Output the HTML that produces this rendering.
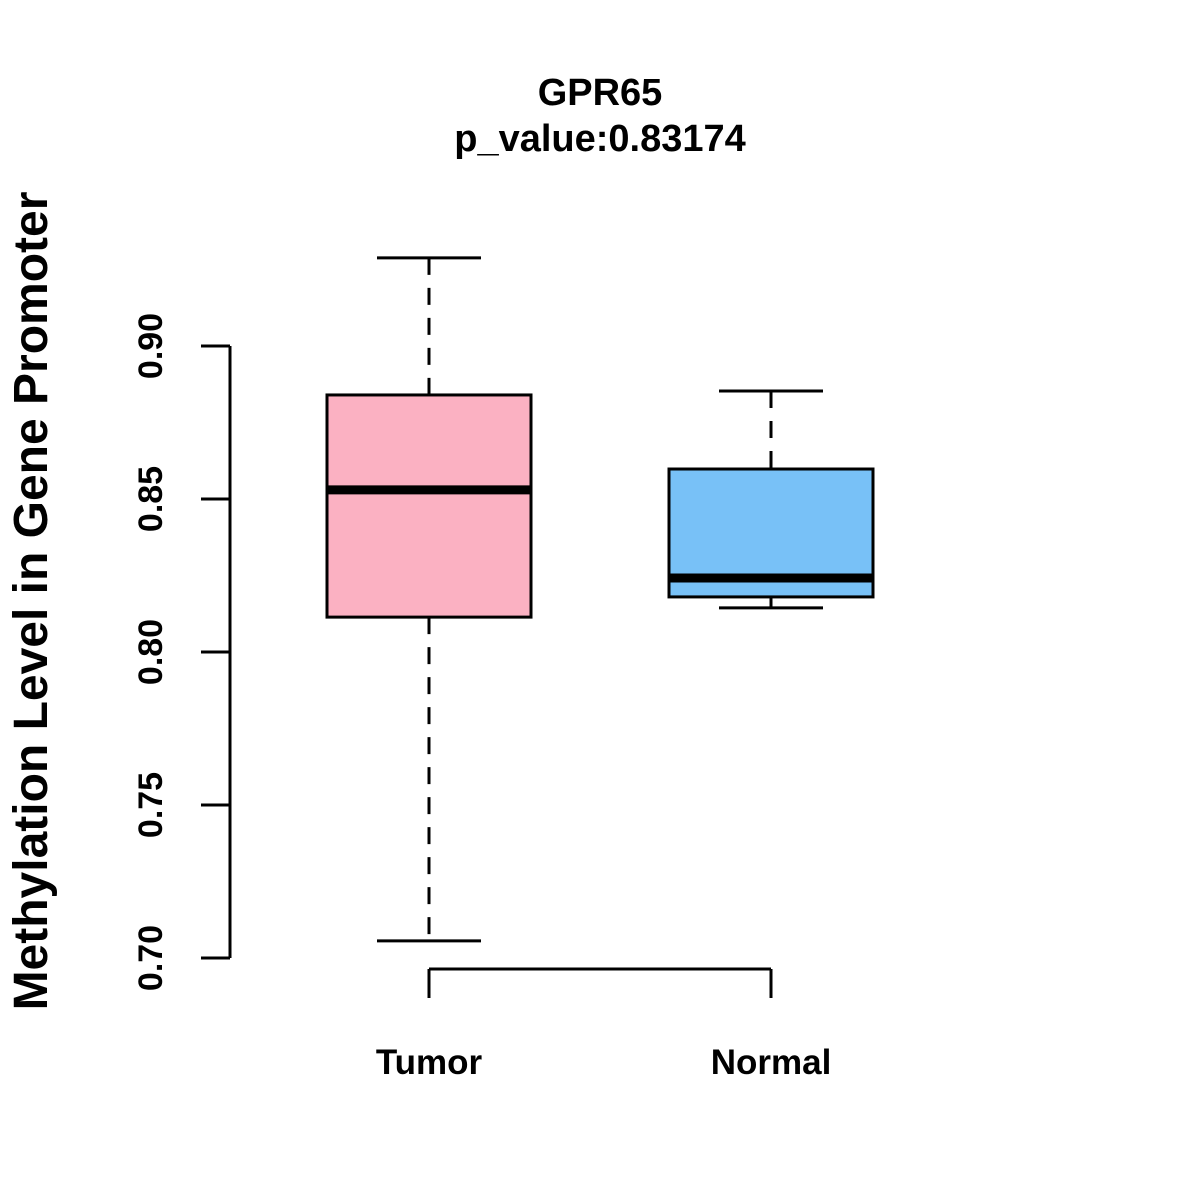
<!DOCTYPE html>
<html><head><meta charset="utf-8"><style>
html,body{margin:0;padding:0;background:#fff;}
svg{display:block;font-family:"Liberation Sans",Arial,sans-serif;}
</style></head><body>
<svg id="chart" width="1200" height="1200" viewBox="0 0 1200 1200">
<rect width="1200" height="1200" fill="#fff"/>
<text x="600" y="105" text-anchor="middle" font-size="38" font-weight="bold">GPR65</text>
<text x="600" y="151" text-anchor="middle" font-size="38" font-weight="bold">p_value:0.83174</text>
<text transform="translate(47,601) rotate(-90)" text-anchor="middle" font-size="48" font-weight="bold">Methylation Level in Gene Promoter</text>
<g id="yaxis"></g>
<g id="xaxis"></g>
<g id="boxes"></g>
</svg>
<script>
const categories = ["Tumor", "Normal"];
const whiskerLow = [0.7056, 0.8144];
const q1 = [0.8114, 0.8180];
const median = [0.8530, 0.8242];
const q3 = [0.8840, 0.8598];
const whiskerHigh = [0.9288, 0.8853];
const fills = ["#FBB1C2", "#78C1F7"];
const yTicks = [0.70, 0.75, 0.80, 0.85, 0.90];
const yTickLabels = ["0.70", "0.75", "0.80", "0.85", "0.90"];

const NS = "http://www.w3.org/2000/svg";
function y(v){ return 958 - (v - 0.70) / 0.20 * 612; }
function x(i){ return 429 + i * 342; }
function mk(tag, attrs, parent){
  const e = document.createElementNS(NS, tag);
  for (const k in attrs) e.setAttribute(k, attrs[k]);
  parent.appendChild(e); return e;
}
const ya = document.getElementById('yaxis');
const xa = document.getElementById('xaxis');
const bx = document.getElementById('boxes');
const st = {stroke:"#000","stroke-width":3,fill:"none"};

let l = mk('line', Object.assign({x1:230,x2:230,y1:y(yTicks[0]),y2:y(yTicks[yTicks.length-1])}, st), ya);


yTicks.forEach((t, i) => {
  const tk = mk('line', Object.assign({x1:201,x2:230,y1:y(t),y2:y(t)}, st), ya);
  
  
  const tx = mk('text', {transform:`translate(162,${y(t)}) rotate(-90)`, "text-anchor":"middle", "font-size":34, "font-weight":"bold"}, ya);
  tx.textContent = yTickLabels[i];
  
  
});

const xl = mk('line', Object.assign({x1:x(0),x2:x(categories.length-1),y1:969,y2:969}, st), xa);


categories.forEach((c, i) => {
  const tk = mk('line', Object.assign({x1:x(i),x2:x(i),y1:969,y2:998}, st), xa);
  
  
  const tx = mk('text', {x:x(i), y:1074, "text-anchor":"middle", "font-size":35, "font-weight":"bold"}, xa);
  tx.textContent = c;
  
  

  const g = mk('g', {}, bx);
  
  
  const cx = x(i);
  mk('line', Object.assign({x1:cx,x2:cx,y1:y(whiskerHigh[i]),y2:y(q3[i]),"stroke-dasharray":"17,13"}, st), g);
  mk('line', Object.assign({x1:cx,x2:cx,y1:y(q1[i]),y2:y(whiskerLow[i]),"stroke-dasharray":"17,13"}, st), g);
  mk('line', Object.assign({x1:cx-52,x2:cx+52,y1:y(whiskerHigh[i]),y2:y(whiskerHigh[i])}, st), g);
  mk('line', Object.assign({x1:cx-52,x2:cx+52,y1:y(whiskerLow[i]),y2:y(whiskerLow[i])}, st), g);
  mk('rect', {x:cx-102, y:y(q3[i]), width:204, height:y(q1[i])-y(q3[i]), fill:fills[i], stroke:"#000","stroke-width":3}, g);
  mk('line', {x1:cx-102,x2:cx+102,y1:y(median[i]),y2:y(median[i]),stroke:"#000","stroke-width":9}, g);
});
</script>
</body></html>
